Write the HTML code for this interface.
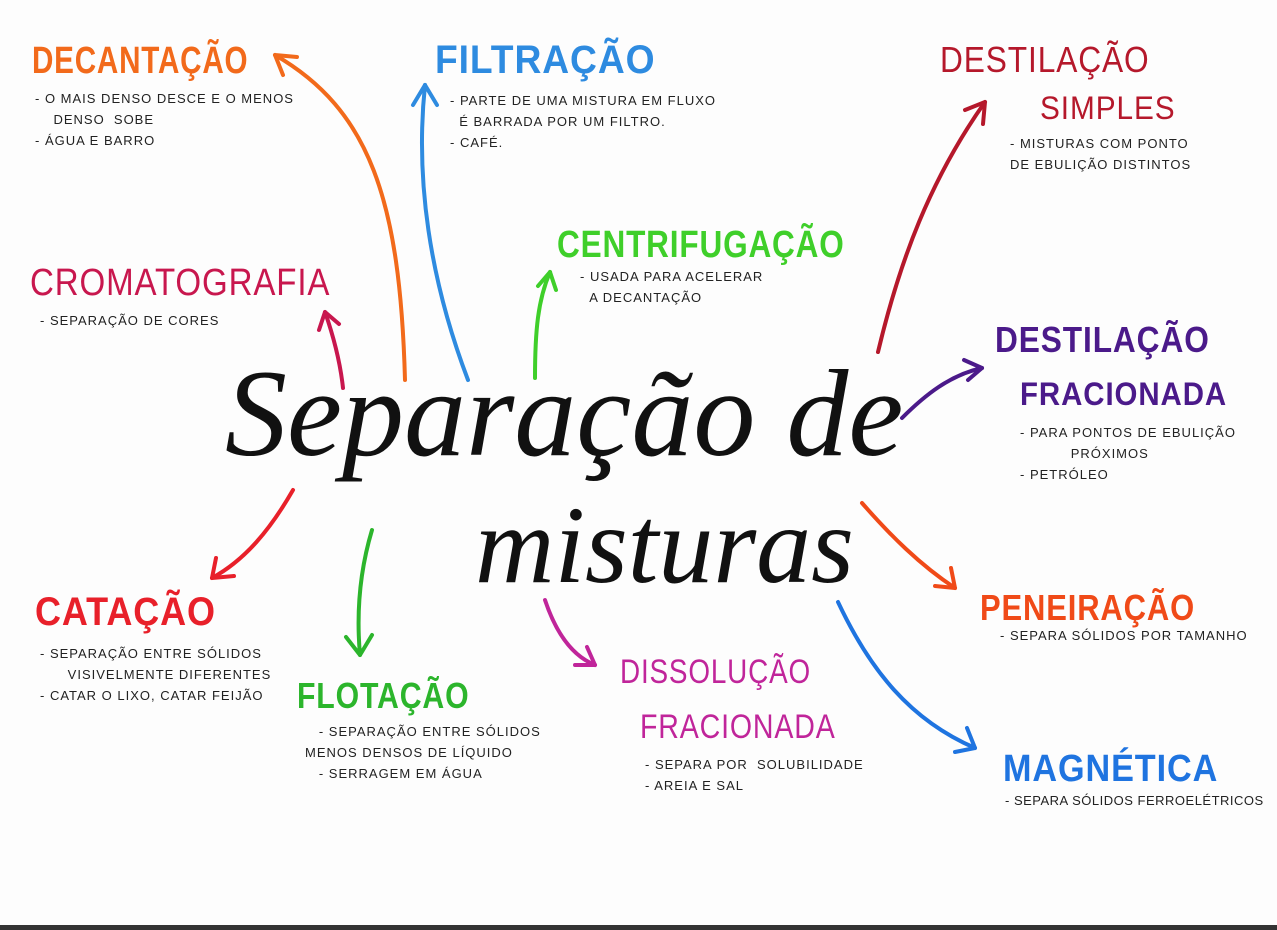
<!DOCTYPE html>
<html><head><meta charset="utf-8"><style>
body{margin:0;width:1277px;height:930px;background:#fdfdfd;position:relative;overflow:hidden;font-family:"Liberation Sans",sans-serif}
.h{position:absolute;font-weight:bold;white-space:nowrap;letter-spacing:1px;transform-origin:left top;line-height:1}
.n{position:absolute;font-size:13px;color:#222;white-space:nowrap;letter-spacing:1px;line-height:21px}
.t{position:absolute;font-family:"Liberation Serif",serif;font-style:italic;color:#111;white-space:nowrap;line-height:1}
</style></head><body>
<svg width="1277" height="930" style="position:absolute;left:0;top:0">
<g fill="none" stroke-width="4" stroke-linecap="round">
<path d="M405,380 C400,200 370,110 275,55" stroke="#f26a1b"/><path d="M275,55 l22,2 M275,55 l8,20" stroke="#f26a1b"/>
<path d="M468,380 C430,280 415,180 425,85" stroke="#2e8be0"/><path d="M425,85 l-12,20 M425,85 l12,20" stroke="#2e8be0"/>
<path d="M535,378 C535,330 538,300 550,272" stroke="#3fcf2a"/><path d="M550,272 l-12,14 M550,272 l6,18" stroke="#3fcf2a"/>
<path d="M343,388 C340,360 333,335 325,312" stroke="#c8174e"/><path d="M325,312 l-6,18 M325,312 l14,12" stroke="#c8174e"/>
<path d="M878,352 C900,260 930,180 985,102" stroke="#b5182b"/><path d="M985,102 l-20,8 M985,102 l-2,22" stroke="#b5182b"/>
<path d="M902,418 C925,395 950,375 982,368" stroke="#4b1a8a"/><path d="M982,368 l-18,-8 M982,368 l-14,12" stroke="#4b1a8a"/>
<path d="M293,490 C270,530 245,560 212,578" stroke="#e8202a"/><path d="M212,578 l22,-2 M212,578 l4,-20" stroke="#e8202a"/>
<path d="M372,530 C360,570 356,610 360,655" stroke="#2cb52c"/><path d="M360,655 l-14,-18 M360,655 l12,-20" stroke="#2cb52c"/>
<path d="M545,600 C555,630 570,655 595,665" stroke="#c0259a"/><path d="M595,665 l-20,0 M595,665 l-8,-18" stroke="#c0259a"/>
<path d="M862,503 C890,535 920,565 955,588" stroke="#f04a18"/><path d="M955,588 l-20,-2 M955,588 l-4,-20" stroke="#f04a18"/>
<path d="M838,602 C870,670 910,720 975,748" stroke="#1f74e0"/><path d="M975,748 l-20,4 M975,748 l-8,-20" stroke="#1f74e0"/>
</g>
</svg>
<div class="t" style="left:225px;top:352px;font-size:124px">Separação de</div>
<div class="t" style="left:475px;top:490px;font-size:110px">misturas</div>

<div class="h" style="left:32px;top:42px;font-size:38px;color:#f26a1b;transform:scaleX(.78)">DECANTAÇÃO</div>
<div class="n" style="left:35px;top:88px">- O MAIS DENSO DESCE E O MENOS<br>&nbsp;&nbsp;&nbsp;&nbsp;DENSO &nbsp;SOBE<br>- ÁGUA E BARRO</div>

<div class="h" style="left:435px;top:40px;font-size:40px;color:#2e8be0;transform:scaleX(.93)">FILTRAÇÃO</div>
<div class="n" style="left:450px;top:90px">- PARTE DE UMA MISTURA EM FLUXO<br>&nbsp;&nbsp;É BARRADA POR UM FILTRO.<br>- CAFÉ.</div>

<div class="h" style="left:940px;top:42px;font-size:36px;color:#b5182b;font-weight:normal;transform:scaleX(.88)">DESTILAÇÃO</div>
<div class="h" style="left:1040px;top:92px;font-size:32px;color:#b5182b;font-weight:normal;transform:scaleX(.93)">SIMPLES</div>
<div class="n" style="left:1010px;top:133px">- MISTURAS COM PONTO<br>DE EBULIÇÃO DISTINTOS</div>

<div class="h" style="left:557px;top:226px;font-size:38px;color:#3fcf2a;transform:scaleX(.83)">CENTRIFUGAÇÃO</div>
<div class="n" style="left:580px;top:266px">- USADA PARA ACELERAR<br>&nbsp;&nbsp;A DECANTAÇÃO</div>

<div class="h" style="left:30px;top:264px;font-size:38px;color:#c8174e;font-weight:normal;transform:scaleX(.87)">CROMATOGRAFIA</div>
<div class="n" style="left:40px;top:310px">- SEPARAÇÃO DE CORES</div>

<div class="h" style="left:995px;top:322px;font-size:36px;color:#4b1a8a;transform:scaleX(.88)">DESTILAÇÃO</div>
<div class="h" style="left:1020px;top:378px;font-size:32px;color:#4b1a8a;transform:scaleX(.92)">FRACIONADA</div>
<div class="n" style="left:1020px;top:422px">- PARA PONTOS DE EBULIÇÃO<br>&nbsp;&nbsp;&nbsp;&nbsp;&nbsp;&nbsp;&nbsp;&nbsp;&nbsp;&nbsp;&nbsp;PRÓXIMOS<br>- PETRÓLEO</div>

<div class="h" style="left:35px;top:592px;font-size:40px;color:#e8202a;transform:scaleX(.9)">CATAÇÃO</div>
<div class="n" style="left:40px;top:643px">- SEPARAÇÃO ENTRE SÓLIDOS<br>&nbsp;&nbsp;&nbsp;&nbsp;&nbsp;&nbsp;VISIVELMENTE DIFERENTES<br>- CATAR O LIXO, CATAR FEIJÃO</div>

<div class="h" style="left:297px;top:678px;font-size:36px;color:#2cb52c;transform:scaleX(.84)">FLOTAÇÃO</div>
<div class="n" style="left:305px;top:721px">&nbsp;&nbsp;&nbsp;- SEPARAÇÃO ENTRE SÓLIDOS<br>MENOS DENSOS DE LÍQUIDO<br>&nbsp;&nbsp;&nbsp;- SERRAGEM EM ÁGUA</div>

<div class="h" style="left:620px;top:655px;font-size:34px;color:#c0259a;font-weight:normal;transform:scaleX(.82)">DISSOLUÇÃO</div>
<div class="h" style="left:640px;top:710px;font-size:34px;color:#c0259a;font-weight:normal;transform:scaleX(.84)">FRACIONADA</div>
<div class="n" style="left:645px;top:754px">- SEPARA POR &nbsp;SOLUBILIDADE<br>- AREIA E SAL</div>

<div class="h" style="left:980px;top:590px;font-size:36px;color:#f04a18;transform:scaleX(.86)">PENEIRAÇÃO</div>
<div class="n" style="left:1000px;top:625px">- SEPARA SÓLIDOS POR TAMANHO</div>

<div class="h" style="left:1003px;top:750px;font-size:38px;color:#1f74e0;transform:scaleX(.9)">MAGNÉTICA</div>
<div class="n" style="left:1005px;top:790px;letter-spacing:.5px">- SEPARA SÓLIDOS FERROELÉTRICOS</div>
<div style="position:absolute;left:0;top:925px;width:1277px;height:5px;background:#333"></div>
</body></html>
